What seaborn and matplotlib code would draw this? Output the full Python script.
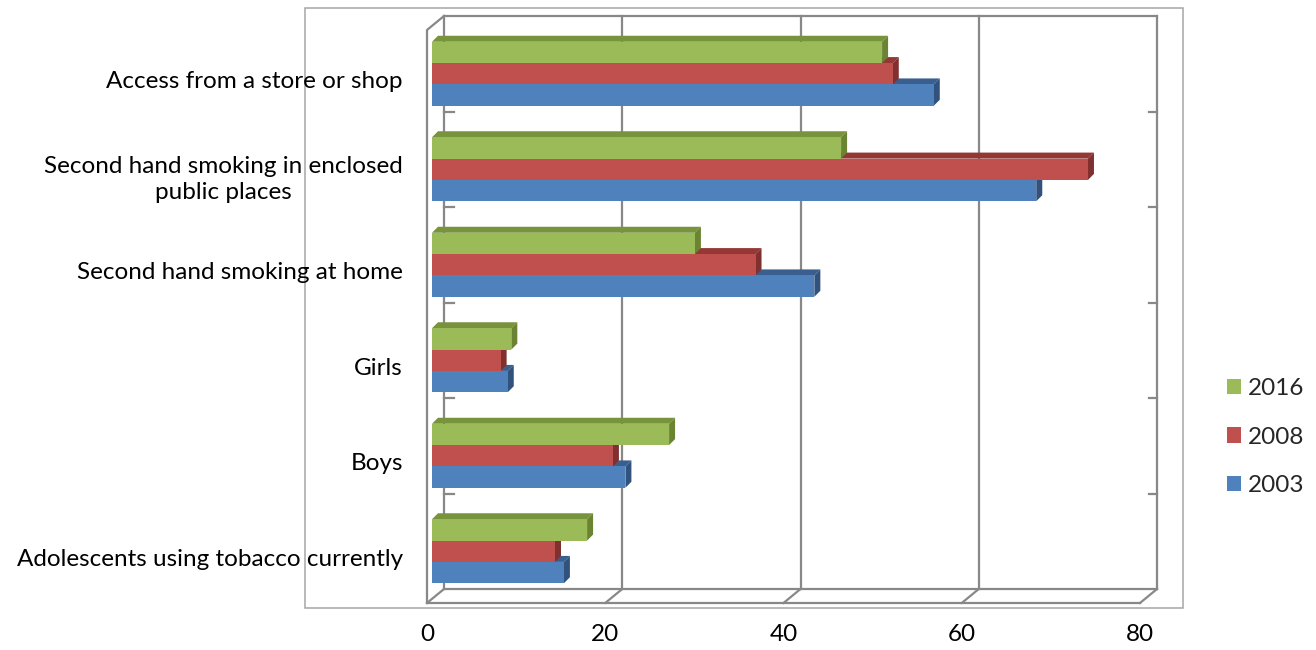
import matplotlib
matplotlib.use("Agg")
import matplotlib.pyplot as plt
import matplotlib.transforms as mtransforms
from matplotlib.patches import Polygon, Rectangle, Patch
from matplotlib.lines import Line2D
import pandas as pd
import seaborn as sns

# ---------------- data ----------------
categories = [
    "Access from a store or shop",
    "Second hand smoking in enclosed\npublic places",
    "Second hand smoking at home",
    "Girls",
    "Boys",
    "Adolescents using tobacco currently",
]
years = ["2016", "2008", "2003"]
v2016 = [50.5, 45.9, 29.5, 8.9, 26.6, 17.4]
v2008 = [51.7, 73.6, 36.3, 7.7, 20.3, 13.8]
v2003 = [56.3, 67.8, 42.9, 8.5, 21.7, 14.8]
x_ticks = [0, 20, 40, 60, 80]

front_colors = {"2016": "#9BBB59", "2008": "#C0504D", "2003": "#4F81BD"}
top_colors = {"2016": "#77933C", "2008": "#953735", "2003": "#3A5F8F"}
side_colors = {"2016": "#6A8433", "2008": "#80302E", "2003": "#31527D"}

df = pd.DataFrame({
    "category": categories * 3,
    "year": ["2016"] * 6 + ["2008"] * 6 + ["2003"] * 6,
    "value": v2016 + v2008 + v2003,
})

# ---------------- style ----------------
sns.set_theme(style="white")
plt.rcParams["font.family"] = ["Lato", "DejaVu Sans"]
FS = 17.5

W, H = 1316, 650
fig = plt.figure(figsize=(W / 100, H / 100), dpi=100)
fig.patch.set_facecolor("white")
ax = fig.add_axes([432 / W, 1 - 599 / H, (1145 - 432) / W, (599 - 26) / H])

sns.barplot(data=df, y="category", x="value", hue="year", hue_order=years,
            order=categories, palette=front_colors, orient="h", width=0.67,
            saturation=1, linewidth=0, legend=False, ax=ax)
ax.set_xlim(0, 80)
ax.set_ylim(5.5, -0.5)
ax.set_xlabel("")
ax.set_ylabel("")
for s in ax.spines.values():
    s.set_visible(False)
ax.patch.set_visible(False)
ax.grid(False)

ax.set_xticks(x_ticks)
ax.set_xticklabels([str(t) for t in x_ticks])
ax.tick_params(axis="x", length=0, pad=18, labelsize=FS, labelcolor="black")
ax.tick_params(axis="y", length=0, pad=21, labelsize=FS, labelcolor="black")
for lbl in ax.get_yticklabels():
    lbl.set_multialignment("center")
    lbl.set_linespacing(1.27)
    lbl.set_transform(lbl.get_transform() +
                      mtransforms.ScaledTranslation(0, -6 / 100, fig.dpi_scale_trans))
for lbl in ax.get_xticklabels():
    lbl.set_transform(lbl.get_transform() +
                      mtransforms.ScaledTranslation(-5 / 100, 0, fig.dpi_scale_trans))

ident = mtransforms.IdentityTransform()


def add_line(pts, color="#888888", lw=1.6, z=0.5):
    xs = [p[0] for p in pts]
    ys = [H - p[1] for p in pts]
    ln = Line2D(xs, ys, transform=ident, color=color, lw=lw,
                solid_capstyle="projecting", zorder=z, clip_on=False)
    ax.add_artist(ln)


def xd(v):
    return ax.transData.transform((v, 0))[0]


def yd(c):
    return H - ax.transData.transform((0, c))[1]


# ---------------- 3-D frame ----------------
frame = Rectangle((305, H - 608), 1183 - 305, 608 - 8, transform=ident,
                  fill=False, edgecolor="#A6A6A6", lw=1.1, zorder=0.3, clip_on=False)
ax.add_artist(frame)

DX_B, DX_F = 12, -5
Y_TOP, Y_BACK, Y_FRONT = 16, 589, 603
xb0, xb1 = xd(0) + DX_B, xd(80) + DX_B
xf0, xf1 = xd(0) + DX_F, xd(80) + DX_F
for v in x_ticks:
    xb = xd(v) + DX_B
    xf = xd(v) + DX_F
    add_line([(xb, Y_TOP), (xb, Y_BACK)])
    add_line([(xb, Y_BACK), (xf, Y_FRONT)])
add_line([(xb0, Y_TOP), (xb1, Y_TOP)])
add_line([(xb0, Y_BACK), (xb1, Y_BACK)])
add_line([(xf0, Y_FRONT), (xf1, Y_FRONT)])
add_line([(xf0, Y_FRONT), (xf0, Y_TOP + 14), (xb0, Y_TOP)])
for i in range(len(categories) - 1):
    yb = yd(i + 0.5) - 10
    add_line([(xb0, yb), (xb0 + 10, yb)])
    add_line([(xb1 - 8, yb), (xb1, yb)])

# ---------------- 3-D bar faces ----------------
D = 6
zbase = {"2003": 1.0, "2008": 1.4, "2016": 1.8}
for year, cont in zip(years, ax.containers):
    for bar in cont:
        x0, y0 = bar.get_x(), bar.get_y()
        w, h = bar.get_width(), bar.get_height()
        (dx0, dy_a) = ax.transData.transform((x0, y0))
        (dx1, dy_b) = ax.transData.transform((x0 + w, y0 + h))
        ytop = max(dy_a, dy_b)
        ybot = min(dy_a, dy_b)
        topface = Polygon([(dx0, ytop), (dx0 + D, ytop + D), (dx1 + D, ytop + D), (dx1, ytop)],
                          closed=True, transform=ident, facecolor=top_colors[year],
                          edgecolor="none", zorder=zbase[year], clip_on=False)
        side = Polygon([(dx1, ytop), (dx1 + D, ytop + D), (dx1 + D, ybot + D), (dx1, ybot)],
                       closed=True, transform=ident, facecolor=side_colors[year],
                       edgecolor="none", zorder=zbase[year], clip_on=False)
        ax.add_artist(topface)
        ax.add_artist(side)
        bar.set_zorder(zbase[year] + 0.2)

ax.set_xlim(0, 80)
ax.set_ylim(5.5, -0.5)

# ---------------- legend ----------------
handles = [Patch(facecolor=front_colors[y], edgecolor="none") for y in years]
fig.legend(handles, years, loc="center left", bbox_to_anchor=(1217 / W, 1 - 437 / H),
           frameon=False, fontsize=FS, handlelength=0.6, handleheight=0.6,
           handletextpad=0.25, labelspacing=1.13, borderaxespad=0)

fig.savefig("out.png", dpi=100, facecolor="white")
